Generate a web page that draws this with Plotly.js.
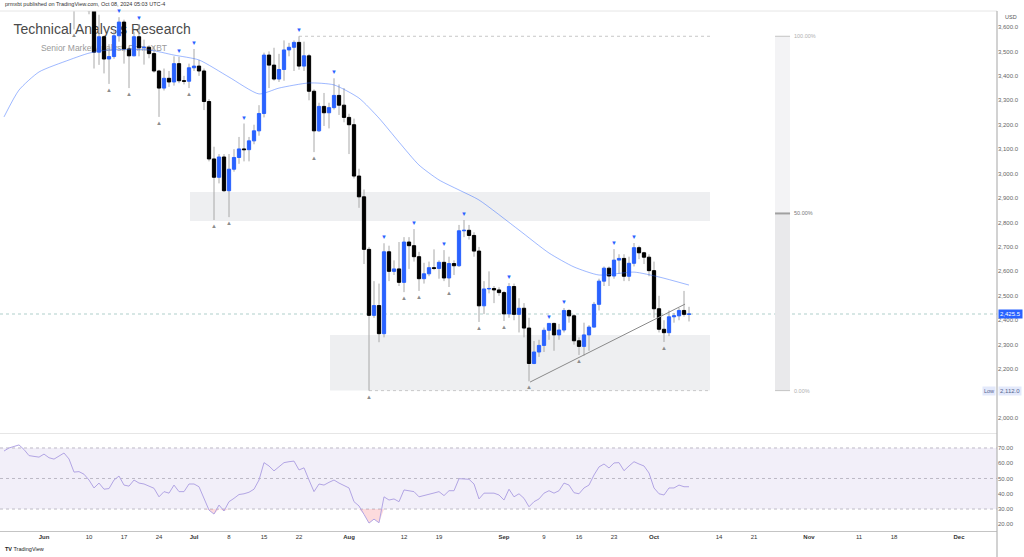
<!DOCTYPE html>
<html><head><meta charset="utf-8">
<script src="https://cdn.plot.ly/plotly-3.0.1.min.js"></script>
<style>html,body{margin:0;padding:0;background:#fff}#chart{width:1024px;height:557px}</style>
</head><body><div id="chart"></div>
<script>
// ---- daily ETH/USD candles, 2024-05-24 .. 2024-10-08 ----
const startDate = '2024-05-24';
const open = [
 3730,3725,3750,3825,3890,3840,3765,3745,
 3762,3815,3780,3767,3810,3865,3812,3680,3683,3706, 3667,3497,3560,3469,3479,3564,3620,3510,3482,3560, 3515,3517,3491,3420,3350,3390,3375,3450,3380,3378,
 3433,3440,3420,3295,3060,2985,3068,2930,3018,3066, 3101,3098,3134,3175,3246,3485,3444,3387,3426,3506, 3517,3537,3440,3482,3337,3175,3275,3249,3270,3320, 3280,
 3230,3200,2990,2905,2690,2420,2460,2345,2680,2600, 2610,2555,2720,2705,2660,2570,2590,2615,2612,2637, 2573,2632,2623,2766,2768,2747,2683,2459,2528,2530, 2524,
 2513,2426,2538,2424,2449,2368,2223,2270,2297,2359, 2387,2340,2360,2440,2418,2316,2293,2340,2372,2465, 2560,2613,2581,2646,2653,2580,2633,2697,2676,2658,
 2603,2447,2363,2349,2414,2418,2440,2424];
const high = [
 3830,3800,3880,3975,3930,3885,3825,3845,
 3835,3830,3850,3830,3887,3880,3840,3715,3720,3715, 3680,3650,3565,3530,3590,3640,3630,3520,3580,3612, 3548,3525,3522,3425,3430,3420,3480,3478,3400,3450,
 3510,3465,3430,3305,3110,3080,3080,3080,3100,3150, 3205,3150,3200,3280,3495,3500,3515,3490,3545,3535, 3545,3562,3540,3490,3345,3290,3330,3290,3390,3365, 3350,
 3245,3225,3020,2935,2700,2560,2550,2715,2705,2645, 2720,2740,2740,2773,2680,2635,2640,2690,2645,2687, 2660,2645,2790,2810,2790,2760,2700,2560,2600,2540, 2535,
 2520,2552,2550,2490,2470,2410,2315,2320,2370,2388, 2390,2385,2450,2445,2425,2330,2390,2380,2475,2570, 2620,2620,2691,2670,2670,2660,2716,2705,2680,2670,
 2640,2500,2400,2440,2430,2450,2520,2455];
const low = [
 3675,3710,3740,3820,3775,3745,3705,3725,
 3752,3752,3760,3730,3780,3760,3590,3670,3668,3652, 3430,3445,3410,3367,3470,3540,3450,3350,3480,3480, 3446,3472,3413,3232,3340,3355,3360,3370,3365,3350,
 3420,3400,3260,3050,2810,2960,2925,2822,3008,3040, 3050,3050,3120,3155,3230,3350,3380,3375,3380,3480, 3420,3425,3420,3300,3088,3170,3195,3185,3262,3240, 3210,
 3080,2980,2860,2630,2112,2410,2310,2330,2560,2585, 2540,2515,2610,2640,2520,2550,2580,2605,2570,2560, 2536,2585,2618,2740,2730,2660,2393,2425,2510,2470, 2500,
 2397,2410,2400,2350,2330,2150,2220,2250,2270,2320, 2275,2320,2350,2390,2300,2258,2255,2275,2370,2440, 2540,2540,2570,2590,2560,2560,2620,2650,2630,2580,
 2410,2350,2311,2335,2390,2400,2415,2395];
const close = [
 3725,3750,3825,3890,3840,3765,3745,3762,
 3815,3780,3767,3810,3865,3812,3680,3683,3706,3667, 3497,3560,3469,3479,3564,3620,3510,3482,3560,3515, 3517,3491,3420,3350,3390,3375,3450,3380,3378,3433,
 3440,3420,3295,3060,2985,3068,2930,3018,3066,3101, 3098,3134,3175,3246,3485,3444,3387,3426,3506,3517, 3537,3440,3482,3337,3175,3275,3249,3270,3320,3280, 3230,
 3200,2990,2905,2690,2420,2460,2345,2680,2600,2610, 2555,2720,2705,2660,2570,2590,2615,2612,2637,2573, 2632,2623,2766,2768,2747,2683,2459,2528,2530,2524, 2513,
 2426,2538,2424,2449,2368,2223,2270,2297,2359,2387, 2340,2360,2440,2418,2316,2293,2340,2372,2465,2560, 2613,2581,2646,2653,2580,2633,2697,2676,2658,2603,
 2447,2363,2349,2414,2418,2440,2424,2425.5];

// RSI(14), same days
const rsi = [
 68,70,71,72,69,65,64.5,64,
 66,63.6,62.7,64.5,66.7,62.8,54.2,54.5,52.8,49, 43.8,47,43,43.4,49,51.6,45.7,45,49,47, 46.4,45,43.6,38,41.4,40.4,45.7,41.4,41.4,46.4,
 46.4,44.6,37,29.3,26.7,32.6,28.7,34.8,37,39.5, 40,41,43,49,60.4,58.2,55,57.6,60.4,61, 61.4,55.6,57,49,41.4,46.4,45.7,47.5,49,47, 45.5,
 43.8,34.8,32,26.5,20.8,23.4,21,38,35.9,36.6, 34.8,42.5,42,41.4,38,39,40,40.5,41.4,38.8, 42,42,49.9,49.7,49.5,46.4,36.6,40.4,40.4,40.4, 39.2,
 35.9,43,38,40,37,31.5,34.8,36.6,40.4,42, 40.4,42,47,45.7,40.7,40,43.8,45.7,52.3,57.6, 59.5,56.9,60.2,60.4,55.1,58.2,61,59.5,58.2,53.6,
 43.8,40,39.2,43.8,43.8,45.7,44.6,44.6];

// moving average
const maDates = ['2024-05-24','2024-05-27','2024-05-31','2024-06-06','2024-06-10','2024-06-14','2024-06-22','2024-06-27','2024-07-02','2024-07-08','2024-07-14','2024-07-18','2024-07-24','2024-07-29','2024-08-03','2024-08-07','2024-08-11','2024-08-15','2024-08-19','2024-08-23','2024-08-27','2024-09-04','2024-09-10','2024-09-15','2024-09-20','2024-09-27','2024-10-02','2024-10-08'];
const maValues = [3232,3342,3416,3465,3493,3506,3506,3485,3465,3395,3326,3350,3371,3363,3309,3227,3129,3035,2974,2933,2892,2769,2675,2618,2585,2597,2577,2544];

const pivotHighDates = ['2024-06-16','2024-06-20','2024-06-28','2024-07-01','2024-07-11','2024-07-22','2024-07-29','2024-08-08','2024-08-14','2024-08-20','2024-08-24','2024-09-02','2024-09-10','2024-09-13','2024-09-23','2024-09-27'];
const pivotLowDates = ['2024-06-07','2024-06-14','2024-06-18','2024-06-24','2024-06-30','2024-07-05','2024-07-08','2024-07-25','2024-08-05','2024-08-12','2024-08-15','2024-08-21','2024-08-27','2024-09-01','2024-09-06','2024-09-16','2024-10-03'];

// drawn zones / tools
const zoneStart = ['2024-06-30 05:00','2024-07-28 05:00'];
const zoneEnd = '2024-10-12 05:00';
const zoneTop = [2925, 2340];
const zoneBottom = [2806, 2112];
const fibHigh = 3562, fibLow = 2112;
const fibLevels = [1, 0.5, 0];
const fibLabels = ['100.00%','50.00%','0.00%'];
const fibBar = ['2024-10-25 05:00','2024-10-28 05:00'];
const fibLineStart = ['2024-07-22','2024-08-05'];
const trendX = ['2024-09-06 05:00','2024-10-07 05:00'];
const trendY = [2147, 2466];
const lastPrice = 2425.5;

const tickVals = ['2024-06-01','2024-06-10','2024-06-17','2024-06-24','2024-07-01','2024-07-08','2024-07-15','2024-07-22','2024-08-01','2024-08-12','2024-08-19','2024-09-01','2024-09-09','2024-09-16','2024-09-23','2024-10-01','2024-10-14','2024-10-21','2024-11-01','2024-11-11','2024-11-18','2024-12-01'];
const tickText = ['<b>Jun</b>','10','17','24','<b>Jul</b>','8','15','22','<b>Aug</b>','12','19','<b>Sep</b>','9','16','23','<b>Oct</b>','14','21','<b>Nov</b>','11','18','<b>Dec</b>'];
const priceTicks = [2000,2200,2300,2400,2500,2600,2700,2800,2900,3000,3100,3200,3300,3400,3500,3600];
const rsiTicks = [20,30,40,50,60,70];

// ---- build ----
const dates = open.map((_, i) => new Date(Date.UTC(2024, 4, 24 + i)).toISOString().slice(0, 10));
const idx = d => dates.indexOf(d);

const wx = [], wy = [];
dates.forEach((d, i) => { wx.push(d, d, null); wy.push(low[i], high[i], null); });

const BLUE = '#2962ff';
const Y_RANGE = [1942.7, 3665.4];

const traces = [
  {type:'scatter', mode:'lines', x:wx, y:wy, xaxis:'x', yaxis:'y', line:{color:'#a8a8a8', width:1}, hoverinfo:'skip'},
  {type:'candlestick', x:dates, open:open, close:close,
   high:open.map((o,i)=>Math.max(o,close[i])), low:open.map((o,i)=>Math.min(o,close[i])),
   xaxis:'x', yaxis:'y3', whiskerwidth:0,
   increasing:{line:{color:BLUE, width:1}, fillcolor:BLUE},
   decreasing:{line:{color:'#000000', width:1}, fillcolor:'#000000'}, hoverinfo:'skip'},
  {type:'scatter', mode:'lines', x:maDates, y:maValues, xaxis:'x', yaxis:'y3', line:{color:'rgba(41,98,255,0.45)', width:1, shape:'spline', smoothing:0.6}, hoverinfo:'skip'},
  {type:'scatter', mode:'lines', x:dates, y:dates.map(()=>30), xaxis:'x', yaxis:'y2', line:{width:0, color:'rgba(0,0,0,0)'}, hoverinfo:'skip'},
  {type:'scatter', mode:'lines', x:dates, y:rsi.map(v=>Math.min(v,30)), xaxis:'x', yaxis:'y2', line:{width:0, color:'rgba(0,0,0,0)'}, fill:'tonexty', fillcolor:'rgba(242,54,69,0.18)', hoverinfo:'skip'},
  {type:'scatter', mode:'lines', x:dates, y:rsi, xaxis:'x', yaxis:'y2', line:{color:'#b2a5e4', width:1}, hoverinfo:'skip'}
];

const shapes = [];
// zones
zoneStart.forEach((s, i) => shapes.push({type:'rect', layer:'below', xref:'x', yref:'y', x0:s, x1:zoneEnd, y0:zoneBottom[i], y1:zoneTop[i], fillcolor:'#eeeff1', line:{width:0}}));
// fib
const fibPrice = l => fibLow + (fibHigh - fibLow) * l;
shapes.push({type:'rect', layer:'below', xref:'x', yref:'y', x0:fibBar[0], x1:fibBar[1], y0:fibPrice(0.5), y1:fibPrice(1), fillcolor:'#f3f3f5', line:{width:0}});
shapes.push({type:'rect', layer:'below', xref:'x', yref:'y', x0:fibBar[0], x1:fibBar[1], y0:fibPrice(0), y1:fibPrice(0.5), fillcolor:'#e9e9eb', line:{width:0}});
fibLevels.forEach((l, i) => shapes.push({type:'line', xref:'x', yref:'y', x0:fibBar[0], x1:fibBar[1], y0:fibPrice(l), y1:fibPrice(l), line:{color: l===0.5 ? '#a0a0a0' : '#c4c4c4', width: l===0.5 ? 2 : 1}}));
shapes.push({type:'line', layer:'below', xref:'x', yref:'y', x0:fibLineStart[0], x1:zoneEnd, y0:fibHigh, y1:fibHigh, line:{color:'#c8c8c8', width:1, dash:'dot'}});
shapes.push({type:'line', layer:'below', xref:'x', yref:'y', x0:fibLineStart[1], x1:zoneEnd, y0:fibLow, y1:fibLow, line:{color:'#c8c8c8', width:1, dash:'dot'}});
// trendline
shapes.push({type:'line', xref:'x', yref:'y', x0:trendX[0], x1:trendX[1], y0:trendY[0], y1:trendY[1], line:{color:'#8a8a8a', width:1}});
// last price line
shapes.push({type:'line', layer:'below', xref:'paper', yref:'y', x0:0, x1:1, y0:lastPrice, y1:lastPrice, line:{color:'rgba(110,170,160,0.55)', width:1, dash:'dot'}});
// RSI band and levels
shapes.push({type:'rect', layer:'below', xref:'paper', yref:'y2', x0:0, x1:1, y0:30, y1:70, fillcolor:'#f2eff9', line:{width:0}});
[70,50,30].forEach(v => shapes.push({type:'line', layer:'below', xref:'paper', yref:'y2', x0:0, x1:1, y0:v, y1:v, line:{color:'#bdbac6', width:1, dash:'dot'}}));
// frame lines
shapes.push({type:'line', xref:'paper', yref:'paper', x0:0, x1:1, y0:1, y1:1, line:{color:'#e6e6e6', width:1}});
shapes.push({type:'line', xref:'paper', yref:'paper', x0:0, x1:1, y0:0.1875, y1:0.1875, line:{color:'#e6e6e6', width:1}});
shapes.push({type:'line', xref:'paper', yref:'paper', x0:1, x1:1, y0:-0.05, y1:1, line:{color:'#b4b4b4', width:1.2}});
// watermark text (under candles)
shapes.push({type:'rect', layer:'below', xref:'paper', yref:'paper', x0:0.0105, x1:0.35, y0:0.952, y1:0.982, line:{width:0}, fillcolor:'rgba(0,0,0,0)',
  label:{text:'Technical Analysis Research', textposition:'middle left', padding:0, font:{family:'Liberation Sans, Arial, sans-serif', size:14, color:'#4a4a4a'}}});
shapes.push({type:'rect', layer:'below', xref:'paper', yref:'paper', x0:0.038, x1:0.35, y0:0.918, y1:0.942, line:{width:0}, fillcolor:'rgba(0,0,0,0)',
  label:{text:'Senior Market Analyst, PrimeXBT', textposition:'middle left', padding:0, font:{family:'Liberation Sans, Arial, sans-serif', size:8.5, color:'#9a9a9a'}}});

const annotations = [];
pivotHighDates.forEach(d => annotations.push({xref:'x', yref:'y', x:d, y:high[idx(d)], text:'▼', showarrow:false, yshift:6, font:{size:6, color:BLUE}}));
pivotLowDates.forEach(d => annotations.push({xref:'x', yref:'y', x:d, y:low[idx(d)], text:'▲', showarrow:false, yshift:-6, font:{size:6, color:'#8c8c8c'}}));
fibLevels.forEach((l, i) => annotations.push({xref:'x', yref:'y', x:fibBar[1], y:fibPrice(l), text:fibLabels[i], showarrow:false, xanchor:'left', xshift:2, font:{size:5.5, color: l===0.5 ? '#7a7a7a' : '#b0b0b0'}}));
annotations.push({xref:'paper', yref:'paper', x:0.003, y:1.0135, xanchor:'left', yanchor:'middle', text:'prmxbt published on TradingView.com, Oct 08, 2024 05:03 UTC-4', showarrow:false, font:{size:5.5, color:'#333'}});
annotations.push({xref:'paper', yref:'paper', x:0.003, y:-0.0346, xanchor:'left', yanchor:'middle', text:'<b>TV</b> TradingView', showarrow:false, font:{size:5.5, color:'#222'}});
annotations.push({xref:'paper', yref:'paper', x:1, y:0.988, xanchor:'left', xshift:6, yanchor:'middle', text:'USD', showarrow:false, font:{size:5.5, color:'#555'}});
annotations.push({xref:'paper', yref:'y', x:1, y:lastPrice, xanchor:'left', xshift:1, text:'2,425.5', showarrow:false, bgcolor:BLUE, borderpad:1, font:{size:6, color:'#fff'}});
annotations.push({xref:'paper', yref:'y', x:1, y:fibLow, xanchor:'left', xshift:1, text:'2,112.0', showarrow:false, bgcolor:'#e3e9fb', borderpad:1, font:{size:6, color:'#55658f'}});
annotations.push({xref:'paper', yref:'y', x:1, y:fibLow, xanchor:'right', xshift:-1, text:'Low', showarrow:false, bgcolor:'#e3e9fb', borderpad:1, font:{size:5.5, color:'#55658f'}});

const layout = {
  width:1024, height:557,
  margin:{l:0, r:27, t:11, b:26},
  paper_bgcolor:'#ffffff', plot_bgcolor:'rgba(0,0,0,0)',
  showlegend:false, hovermode:false,
  boxgap:0.35, boxgroupgap:0,
  font:{family:'Liberation Sans, Arial, sans-serif', size:6, color:'#333'},
  xaxis:{type:'date', range:['2024-05-23 04:48','2024-12-08 14:24'], anchor:'y2', tickvals:tickVals, ticktext:tickText, ticks:'',
         showline:true, linecolor:'#c4c4c4', linewidth:1, showgrid:false, zeroline:false, tickfont:{size:6, color:'#333'}, rangeslider:{visible:false}, fixedrange:true},
  yaxis:{domain:[0.1904, 1], range:Y_RANGE, side:'right', tickvals:priceTicks, tickformat:',.1f', ticks:'', showgrid:false, zeroline:false, showline:false, tickfont:{size:6, color:'#666'}, fixedrange:true},
  yaxis3:{overlaying:'y', range:Y_RANGE, side:'right', visible:false, fixedrange:true},
  yaxis2:{domain:[0, 0.1846], range:[15.6, 78.5], side:'right', tickvals:rsiTicks, tickformat:'.2f', ticks:'', showgrid:false, zeroline:false, showline:false, tickfont:{size:6, color:'#666'}, fixedrange:true},
  shapes:shapes, annotations:annotations
};

Plotly.newPlot('chart', traces, layout, {displayModeBar:false, staticPlot:true});
</script>
</body></html>
